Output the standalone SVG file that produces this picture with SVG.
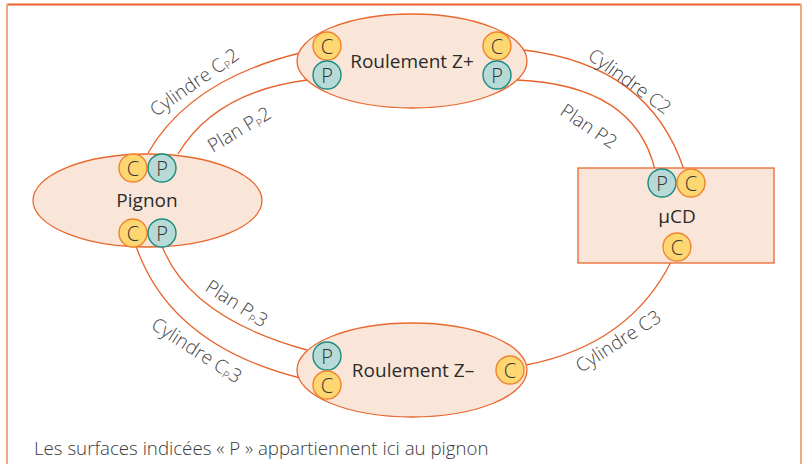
<svg xmlns="http://www.w3.org/2000/svg" width="806" height="464" viewBox="0 0 806 464">
  <style>
    .node { fill: #fae6d9; stroke: #e8682e; stroke-width: 1.3; }
    .c { fill: #fed672; stroke: #f0842c; stroke-width: 1.4; }
    .p { fill: #b8dad7; stroke: #1b8b82; stroke-width: 1.4; }
    .link { fill: none; stroke: #e8632b; stroke-width: 1.3; }
    .lbl { font-family: "Open Sans", "Liberation Sans", sans-serif; font-size: 19px; fill: #2b2b2b; text-anchor: middle; dominant-baseline: central; }
    .ltr { font-family: "Open Sans", "Liberation Sans", sans-serif; font-size: 20px; font-weight: 300; fill: #333333; text-anchor: middle; dominant-baseline: central; }
    .edge { font-family: "Open Sans", "Liberation Sans", sans-serif; font-size: 19px; font-weight: 300; fill: #444444; text-anchor: middle; dominant-baseline: central; }
    .sub { font-size: 10.5px; }
  </style>

  <!-- frame -->
  <g id="frame">
    <line x1="7" y1="4.5" x2="801" y2="4.5" stroke="#e8632b" stroke-width="2"/>
    <line x1="7" y1="4" x2="7" y2="464" stroke="#f0a882" stroke-width="2"/>
    <line x1="801" y1="4" x2="801" y2="464" stroke="#f0a882" stroke-width="2"/>
  </g>

  <!-- connectors -->
  <g id="connectors">
    <path class="link" d="M148,153 Q190,80 300,53"/>
    <path class="link" d="M178,154 Q215,92 307,80"/>
    <path class="link" d="M524,50 Q650,65 684,170"/>
    <path class="link" d="M517,80 Q635,85 655,170"/>
    <path class="link" d="M136,246 Q170,345 300,378"/>
    <path class="link" d="M162,246 Q190,318 307,350"/>
    <path class="link" d="M526,365 Q630,345 672,260"/>
  </g>

  <!-- connector labels -->
  <g id="connector-labels">
    <text class="edge" transform="translate(194,82) rotate(-35)">Cylindre C<tspan class="sub" dy="5">P</tspan><tspan dy="-5">2</tspan></text>
    <text class="edge" transform="translate(239,129) rotate(-31)">Plan P<tspan class="sub" dy="5">P</tspan><tspan dy="-5">2</tspan></text>
    <text class="edge" transform="translate(630,81) rotate(36)">Cylindre C2</text>
    <text class="edge" transform="translate(589,126) rotate(34)">Plan P2</text>
    <text class="edge" transform="translate(237,303) rotate(33)">Plan P<tspan class="sub" dy="5">P</tspan><tspan dy="-5">3</tspan></text>
    <text class="edge" transform="translate(197,350) rotate(33)">Cylindre C<tspan class="sub" dy="5">P</tspan><tspan dy="-5">3</tspan></text>
    <text class="edge" transform="translate(618,341) rotate(-33)">Cylindre C3</text>
  </g>

  <!-- Roulement Z+ -->
  <g id="roulement-zplus">
    <ellipse class="node" cx="412" cy="61" rx="115" ry="47"/>
    <circle class="c" cx="327" cy="46" r="14"/>
    <text class="ltr" x="327" y="46">C</text>
    <circle class="p" cx="327" cy="75" r="14"/>
    <text class="ltr" x="327" y="75">P</text>
    <circle class="c" cx="497" cy="46" r="14"/>
    <text class="ltr" x="497" y="46">C</text>
    <circle class="p" cx="497" cy="75" r="14"/>
    <text class="ltr" x="497" y="75">P</text>
    <text class="lbl" x="412" y="61">Roulement Z+</text>
  </g>

  <!-- Pignon -->
  <g id="pignon">
    <ellipse class="node" cx="147.5" cy="200.5" rx="114.5" ry="46.5"/>
    <circle class="c" cx="133" cy="168" r="14"/>
    <text class="ltr" x="133" y="168">C</text>
    <circle class="p" cx="162" cy="168" r="14"/>
    <text class="ltr" x="162" y="168">P</text>
    <circle class="c" cx="133" cy="233" r="14"/>
    <text class="ltr" x="133" y="233">C</text>
    <circle class="p" cx="162" cy="233" r="14"/>
    <text class="ltr" x="162" y="233">P</text>
    <text class="lbl" x="147" y="200">Pignon</text>
  </g>

  <!-- µCD -->
  <g id="mucd">
    <rect class="node" x="578" y="168" width="196" height="95"/>
    <circle class="p" cx="662" cy="183" r="14"/>
    <text class="ltr" x="662" y="183">P</text>
    <circle class="c" cx="691" cy="183" r="14"/>
    <text class="ltr" x="691" y="183">C</text>
    <circle class="c" cx="677" cy="247" r="14"/>
    <text class="ltr" x="677" y="247">C</text>
    <text class="lbl" x="677" y="216">µCD</text>
  </g>

  <!-- Roulement Z- -->
  <g id="roulement-zminus">
    <ellipse class="node" cx="412" cy="370" rx="115" ry="47"/>
    <circle class="p" cx="327" cy="356" r="14"/>
    <text class="ltr" x="327" y="356">P</text>
    <circle class="c" cx="327" cy="385" r="14"/>
    <text class="ltr" x="327" y="385">C</text>
    <circle class="c" cx="510" cy="370" r="14"/>
    <text class="ltr" x="510" y="370">C</text>
    <text class="lbl" x="413" y="370">Roulement Z–</text>
  </g>

  <!-- caption -->
  <text x="34" y="455" font-family="'Open Sans', 'Liberation Sans', sans-serif" font-size="18.7" font-weight="300" fill="#3a3a3a">Les surfaces indicées « P » appartiennent ici au pignon</text>
</svg>
